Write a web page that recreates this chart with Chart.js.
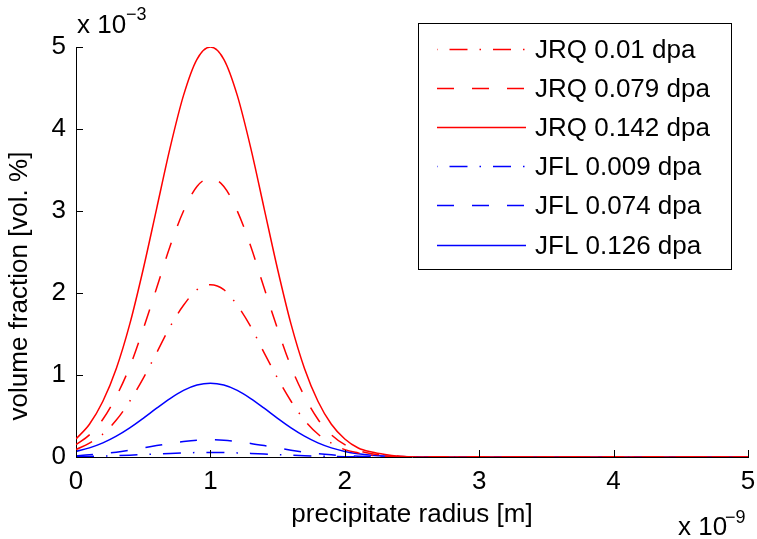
<!DOCTYPE html>
<html>
<head>
<meta charset="utf-8">
<script src="https://cdn.jsdelivr.net/npm/chart.js"></script>
<style>
  html, body { margin: 0; padding: 0; background: #fff; }
  #wrap { width: 757px; height: 539px; }
</style>
</head>
<body>
<div id="wrap"><canvas id="grafico"></canvas></div>
<script>
// ================== DATA ==================

// precipitate radius (x 1e-9 m)
const radius = [0, 0.1, 0.2, 0.3, 0.4, 0.5, 0.6, 0.7, 0.8, 0.9, 1.0, 1.1, 1.2, 1.3, 1.4,
  1.5, 1.6, 1.7, 1.8, 1.9, 2.0, 2.1, 2.2, 2.3, 2.4, 2.5, 2.6, 3, 4, 5];

// volume fraction (x 1e-3 vol. %)
const jrq001 = [0.09, 0.17, 0.28, 0.45, 0.68, 0.96, 1.27, 1.59, 1.85, 2.04, 2.10, 2.04, 1.85, 1.59, 1.27,
  0.96, 0.68, 0.45, 0.28, 0.17, 0.09, 0.05, 0.02, 0.01, 0, 0, 0, 0, 0, 0];
const jrq079 = [0.15, 0.27, 0.46, 0.74, 1.10, 1.56, 2.06, 2.57, 3.00, 3.30, 3.40, 3.30, 3.00, 2.57, 2.06,
  1.56, 1.10, 0.74, 0.46, 0.27, 0.15, 0.08, 0.04, 0.02, 0.01, 0, 0, 0, 0, 0];
const jrq142 = [0.22, 0.40, 0.68, 1.08, 1.62, 2.29, 3.03, 3.77, 4.41, 4.85, 5.00, 4.85, 4.41, 3.77, 3.03,
  2.29, 1.62, 1.08, 0.68, 0.40, 0.22, 0.11, 0.06, 0.03, 0.01, 0, 0, 0, 0, 0];
const jfl009 = [0.004, 0.007, 0.011, 0.016, 0.022, 0.029, 0.036, 0.044, 0.050, 0.054, 0.055, 0.054, 0.050, 0.044, 0.036,
  0.029, 0.022, 0.016, 0.011, 0.007, 0.004, 0.002, 0.001, 0.001, 0, 0, 0, 0, 0, 0];
const jfl074 = [0.016, 0.026, 0.040, 0.059, 0.083, 0.110, 0.139, 0.166, 0.189, 0.205, 0.210, 0.205, 0.189, 0.166, 0.139,
  0.110, 0.083, 0.059, 0.040, 0.026, 0.016, 0.009, 0.005, 0.003, 0.001, 0, 0, 0, 0, 0];
const jfl126 = [0.068, 0.111, 0.172, 0.254, 0.355, 0.472, 0.595, 0.713, 0.812, 0.877, 0.900, 0.877, 0.812, 0.713, 0.595,
  0.472, 0.355, 0.254, 0.172, 0.111, 0.068, 0.040, 0.022, 0.011, 0.006, 0.003, 0, 0, 0, 0];

const labels = ["JRQ 0.01 dpa", "JRQ 0.079 dpa", "JRQ 0.142 dpa", "JFL 0.009 dpa", "JFL 0.074 dpa", "JFL 0.126 dpa"];

// tick values
const xTicks = [0, 1, 2, 3, 4, 5];
const yTicks = [0, 1, 2, 3, 4, 5];

// ================== STYLE ==================

const FONT = "'Liberation Sans', Arial, sans-serif";
const RED = "#ff0000";
const BLUE = "#0000ff";
const DASHED = [17, 18];
const DASHDOT = [18, 12, 1.5, 12];

function serie(label, values, color, dash) {
  return {
    label,
    data: radius.map((x, i) => ({ x, y: values[i] })),
    borderColor: color,
    borderDash: dash,
    borderWidth: 1.5,
    pointRadius: 0,
    fill: false,
    cubicInterpolationMode: "monotone",
  };
}

// ================== PLUGIN: inward ticks, labels, legend ==================

const matlabLook = {
  id: "matlabLook",
  afterDatasetsDraw(chart) {
    const { ctx, chartArea: a, scales } = chart;
    ctx.save();
    ctx.strokeStyle = "#000";
    ctx.lineWidth = 1;
    ctx.setLineDash([]);
    ctx.beginPath();
    xTicks.forEach(v => {
      const px = Math.round(scales.x.getPixelForValue(v)) + 0.5;
      ctx.moveTo(px, a.bottom);
      ctx.lineTo(px, a.bottom - 7);
    });
    yTicks.forEach(v => {
      const py = Math.round(scales.y.getPixelForValue(v)) + 0.5;
      ctx.moveTo(a.left, py);
      ctx.lineTo(a.left + 7, py);
    });
    ctx.stroke();

    // multipliers "x 10^-3" and "x 10^-9"
    ctx.fillStyle = "#000";
    ctx.textBaseline = "alphabetic";
    ctx.textAlign = "left";
    ctx.font = "26px " + FONT;
    ctx.fillText("x 10", 77, 33);
    ctx.fillText("x 10", 678, 535);
    ctx.font = "18px " + FONT;
    ctx.fillText("\u22123", 126, 20);
    ctx.fillText("\u22129", 725, 523);

    // y label (placed like the MATLAB original, a bit below centre)
    ctx.font = "26px " + FONT;
    ctx.textAlign = "center";
    ctx.textBaseline = "middle";
    ctx.translate(20, 286);
    ctx.rotate(-Math.PI / 2);
    ctx.fillText("volume fraction [vol. %]", 0, 0);
    ctx.restore();
  },
  afterDraw(chart) {
    const { ctx } = chart;
    const box = { x: 418, y: 23, w: 313, h: 246 };
    ctx.save();
    ctx.fillStyle = "#fff";
    ctx.fillRect(box.x, box.y, box.w, box.h);
    ctx.strokeStyle = "#000";
    ctx.lineWidth = 1;
    ctx.setLineDash([]);
    ctx.strokeRect(box.x + 0.5, box.y + 0.5, box.w, box.h);

    ctx.font = "26px " + FONT;
    ctx.textBaseline = "middle";
    ctx.textAlign = "left";
    chart.data.datasets.forEach((ds, i) => {
      const y = Math.round(49 + i * 39.1) + 0.5;
      ctx.strokeStyle = ds.borderColor;
      ctx.lineWidth = 1.5;
      ctx.setLineDash(ds.borderDash || []);
      ctx.lineDashOffset = ds.borderDash === DASHDOT ? 31 : 0;
      ctx.beginPath();
      ctx.moveTo(437, y);
      ctx.lineTo(526, y);
      ctx.stroke();
      ctx.fillStyle = "#000";
      ctx.fillText(ds.label, 535, y + 1);
    });
    ctx.restore();
  }
};

// ================== CHART ==================

const ctx = document.getElementById("grafico").getContext("2d");

const grafico = new Chart(ctx, {
  type: "line",
  data: {
    datasets: [
      serie(labels[0], jrq001, RED, DASHDOT),
      serie(labels[1], jrq079, RED, DASHED),
      serie(labels[2], jrq142, RED, []),
      serie(labels[3], jfl009, BLUE, DASHDOT),
      serie(labels[4], jfl074, BLUE, DASHED),
      serie(labels[5], jfl126, BLUE, []),
    ]
  },
  options: {
    responsive: true,
    maintainAspectRatio: false,
    animation: false,
    layout: { padding: { left: 0, right: 9, top: 47, bottom: 0 } },
    plugins: { legend: { display: false }, tooltip: { enabled: false } },
    scales: {
      x: {
        type: "linear",
        min: 0,
        max: 5,
        afterBuildTicks: s => { s.ticks = xTicks.map(v => ({ value: v })); },
        afterFit: s => { s.height = 82; s.paddingLeft = 0; s.paddingRight = 0; },
        ticks: { color: "#000", font: { family: FONT, size: 26 }, padding: 9, maxRotation: 0 },
        grid: { drawOnChartArea: false, drawTicks: false },
        border: { color: "#000", width: 1 },
        title: {
          display: true,
          text: "precipitate radius [m]",
          color: "#000",
          font: { family: FONT, size: 26 },
          padding: { top: 0, bottom: 9 }
        }
      },
      y: {
        min: 0,
        max: 5,
        afterBuildTicks: s => { s.ticks = yTicks.map(v => ({ value: v })); },
        afterFit: s => { s.width = 76; s.paddingTop = 0; s.paddingBottom = 0; },
        ticks: { color: "#000", font: { family: FONT, size: 26 }, padding: 10 },
        grid: { drawOnChartArea: false, drawTicks: false },
        border: { color: "#000", width: 1 }
      }
    }
  },
  plugins: [matlabLook]
});
</script>
</body>
</html>
